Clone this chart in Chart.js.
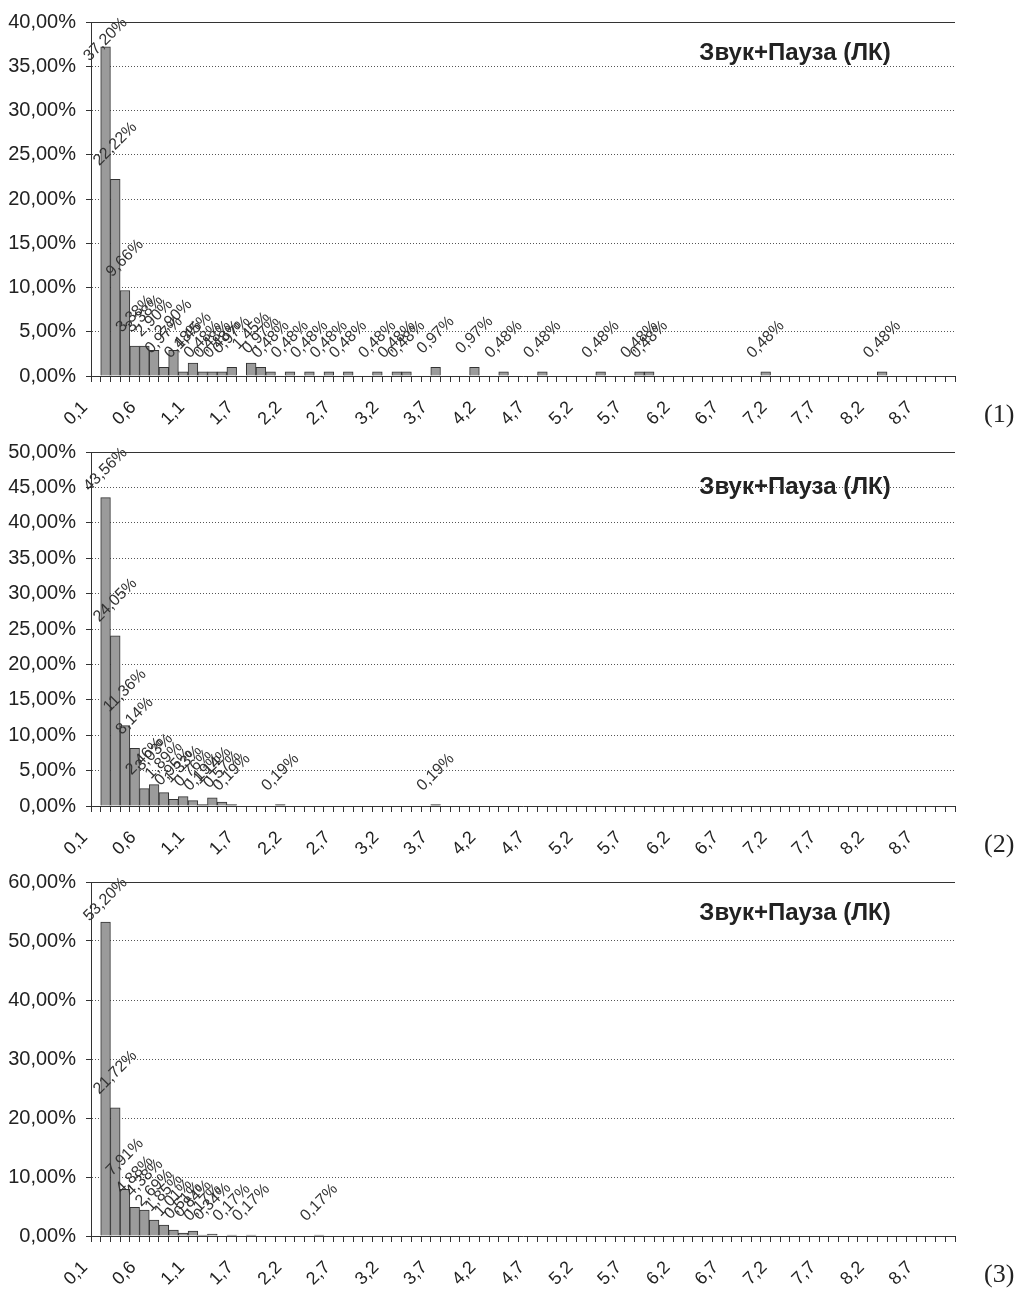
<!DOCTYPE html>
<html>
<head>
<meta charset="utf-8">
<script src="https://cdn.jsdelivr.net/npm/chart.js@4.4.1/dist/chart.umd.min.js"></script>
<style>
  body { margin: 0; background: #fff; }
  .panel { position: relative; width: 1015px; height: 430px; }
  .panel canvas { position: absolute; left: 0; top: 0; }
  .num { position: absolute; left: 984px; top: 399px; font: 26px "Liberation Serif", "Times New Roman", serif; color: #222; }
</style>
</head>
<body>
<div class="panel"><canvas id="c1" width="1015" height="430"></canvas><div class="num">(1)</div></div>
<div class="panel"><canvas id="c2" width="1015" height="430"></canvas><div class="num">(2)</div></div>
<div class="panel"><canvas id="c3" width="1015" height="430"></canvas><div class="num">(3)</div></div>
<script>
// categories (duration, s) - as printed on the axis
const categories = [
  '0,1','0,2','0,3','0,4','0,5','0,6','0,7','0,8','0,9','1,0',
  '1,1','1,2','1,3','1,4','1,5','1,7','1,8','1,9','2,0','2,1',
  '2,2','2,3','2,4','2,5','2,6','2,7','2,8','2,9','3,0','3,1',
  '3,2','3,3','3,4','3,5','3,6','3,7','3,8','3,9','4,0','4,1',
  '4,2','4,3','4,4','4,5','4,6','4,7','4,8','4,9','5,0','5,1',
  '5,2','5,3','5,4','5,5','5,6','5,7','5,8','5,9','6,0','6,1',
  '6,2','6,3','6,4','6,5','6,6','6,7','6,8','6,9','7,0','7,1',
  '7,2','7,3','7,4','7,5','7,6','7,7','7,8','7,9','8,0','8,1',
  '8,2','8,3','8,4','8,5','8,6','8,7','8,8','8,9','9,0'
];
const labelEvery = 5;

// % of cases
const series1 = [
  0, 37.20, 22.22, 9.66, 3.38, 3.38, 2.90, 0.97, 2.90, 0.48,
  1.45, 0.48, 0.48, 0.48, 0.97, 0, 1.45, 0.97, 0.48, 0,
  0.48, 0, 0.48, 0, 0.48, 0, 0.48, 0, 0, 0.48,
  0, 0.48, 0.48, 0, 0, 0.97, 0, 0, 0, 0.97,
  0, 0, 0.48, 0, 0, 0, 0.48, 0, 0, 0,
  0, 0, 0.48, 0, 0, 0, 0.48, 0.48, 0, 0,
  0, 0, 0, 0, 0, 0, 0, 0, 0, 0.48,
  0, 0, 0, 0, 0, 0, 0, 0, 0, 0,
  0, 0.48, 0, 0, 0, 0, 0, 0, 0
];
const series2 = [
  0, 43.56, 24.05, 11.36, 8.14, 2.46, 3.03, 1.89, 0.95, 1.33,
  0.76, 0.19, 1.14, 0.57, 0.19, 0, 0, 0, 0, 0.19,
  0, 0, 0, 0, 0, 0, 0, 0, 0, 0,
  0, 0, 0, 0, 0, 0.19, 0, 0, 0, 0,
  0, 0, 0, 0, 0, 0, 0, 0, 0, 0,
  0, 0, 0, 0, 0, 0, 0, 0, 0, 0,
  0, 0, 0, 0, 0, 0, 0, 0, 0, 0,
  0, 0, 0, 0, 0, 0, 0, 0, 0, 0,
  0, 0, 0, 0, 0, 0, 0, 0, 0
];
const series3 = [
  0, 53.20, 21.72, 7.91, 4.88, 4.38, 2.69, 1.85, 1.01, 0.51,
  0.84, 0.17, 0.34, 0, 0.17, 0, 0.17, 0, 0, 0,
  0, 0, 0, 0.17, 0, 0, 0, 0, 0, 0,
  0, 0, 0, 0, 0, 0, 0, 0, 0, 0,
  0, 0, 0, 0, 0, 0, 0, 0, 0, 0,
  0, 0, 0, 0, 0, 0, 0, 0, 0, 0,
  0, 0, 0, 0, 0, 0, 0, 0, 0, 0,
  0, 0, 0, 0, 0, 0, 0, 0, 0, 0,
  0, 0, 0, 0, 0, 0, 0, 0, 0
];
const yMaxes = [40, 50, 60];
const ySteps = [5, 5, 10];
const chartTitle = 'Звук+Пауза (ЛК)';

const FONT = '"Liberation Sans", Arial, sans-serif';

function pct(v) {
  return v.toFixed(2).replace('.', ',') + '%';
}

// rotated value labels, frame line on top and the title inside the plot
const barLabels = {
  id: 'barLabels',
  afterDatasetsDraw(chart, args, opts) {
    const ctx = chart.ctx;
    const area = chart.chartArea;
    const meta = chart.getDatasetMeta(0);
    const data = chart.data.datasets[0].data;

    ctx.save();
    ctx.strokeStyle = '#333';
    ctx.lineWidth = 1;
    ctx.beginPath();
    ctx.moveTo(area.left, Math.round(area.top) + 0.5);
    ctx.lineTo(area.right, Math.round(area.top) + 0.5);
    ctx.stroke();

    ctx.font = '16px ' + FONT;
    ctx.fillStyle = '#333';
    ctx.textAlign = 'center';
    ctx.textBaseline = 'middle';
    meta.data.forEach((bar, i) => {
      const v = data[i];
      if (!v) return;
      const t = pct(v);
      const w = ctx.measureText(t).width;
      const half = (w + 12) / (2 * Math.SQRT2);
      let cy = bar.y - 12 - half;
      if (cy - half < area.top - 6) cy = area.top - 6 + half;
      ctx.save();
      ctx.translate(bar.x, cy);
      ctx.rotate(-Math.PI / 4);
      ctx.fillText(t, 0, 0);
      ctx.restore();
    });

    ctx.font = 'bold 24px ' + FONT;
    ctx.fillStyle = '#222';
    ctx.textAlign = 'center';
    ctx.textBaseline = 'middle';
    ctx.fillText(chartTitle, 795, area.top + opts.titleOffset);
    ctx.restore();
  }
};

function makeChart(id, values, yMax, yStep, titleOffset) {
  const ctx = document.getElementById(id).getContext('2d');
  return new Chart(ctx, {
    type: 'bar',
    data: {
      labels: categories,
      datasets: [{
        data: values,
        backgroundColor: '#9b9b9b',
        borderColor: '#333',
        borderWidth: 1,
        barPercentage: 1,
        categoryPercentage: 1
      }]
    },
    options: {
      responsive: false,
      animation: false,
      layout: { padding: { top: 22, right: 60, bottom: 0, left: 0 } },
      plugins: {
        legend: { display: false },
        tooltip: { enabled: false },
        barLabels: { titleOffset: titleOffset }
      },
      scales: {
        x: {
          afterFit: (scale) => { scale.height = 54; },
          grid: {
            offset: true,
            drawOnChartArea: false,
            drawTicks: true,
            tickLength: 6,
            tickColor: '#333'
          },
          border: { color: '#333', width: 1 },
          ticks: {
            autoSkip: false,
            maxRotation: 45,
            minRotation: 45,
            padding: 15,
            labelOffset: -11,
            color: '#222',
            font: { size: 18, family: FONT },
            callback: (v, i) => (i % labelEvery === 0 ? categories[i] : '')
          }
        },
        y: {
          min: 0,
          max: yMax,
          afterFit: (scale) => { scale.width = 91; },
          grid: {
            color: '#555',
            lineWidth: 1,
            drawTicks: true,
            tickLength: 5,
            tickColor: '#333'
          },
          border: { color: '#333', width: 1, dash: [1, 2] },
          ticks: {
            stepSize: yStep,
            padding: 10,
            color: '#222',
            font: { size: 20, family: FONT },
            callback: (v) => pct(v)
          }
        }
      }
    },
    plugins: [barLabels]
  });
}

makeChart('c1', series1, yMaxes[0], ySteps[0], 31);
makeChart('c2', series2, yMaxes[1], ySteps[1], 35);
makeChart('c3', series3, yMaxes[2], ySteps[2], 31);
</script>
</body>
</html>
